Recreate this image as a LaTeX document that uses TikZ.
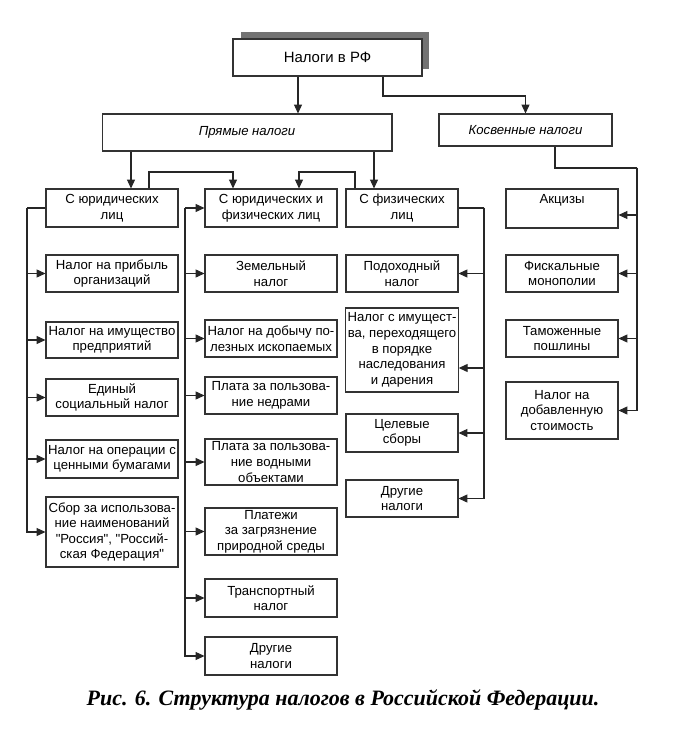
\documentclass[tikz,border=0pt]{standalone}
\usepackage{fontspec}
\setmainfont{Liberation Sans}
\newfontfamily\capfont{Liberation Serif}
\usetikzlibrary{arrows.meta, shadows}

\begin{document}
\begin{tikzpicture}[
      x=0.02cm, y=-0.02cm,
      box/.style={draw=black!80, line width=0.6pt, fill=white, align=center,
        minimum height=0.74cm, inner sep=1pt,
        font=\fontsize{7.5}{8.9}\selectfont},
      colA/.style={box, minimum width=2.64cm},
      colB/.style={box, minimum width=2.24cm},
      arr/.style={-{Triangle[length=5pt, width=4.5pt]}, line width=0.6pt, draw=black!85},
      ln/.style={line width=0.6pt, draw=black!85}
    ]
    \useasboundingbox (0,0) rectangle (686,729);
    % top level
    \node[box, minimum width=3.78cm,
      drop shadow={shadow xshift=0.15cm, shadow yshift=0.13cm, fill=black!55, opacity=1}]
      (nalogi) at (327.5,57.5) {\fontsize{8.5}{10}\selectfont Налоги в РФ};
    \node[box, minimum width=5.8cm] (pryam) at (247,132.5) {\itshape Прямые налоги};
    \node[box, minimum width=3.46cm, minimum height=0.64cm] (kosv) at (525.5,130)
      {\itshape Косвенные налоги};

    % first column
    \node[colA, minimum height=0.76cm] (yur) at (112,208) {С юридических\\лиц};
    \node[colA] (pribyl) at (112,273.5) {Налог на прибыль\\организаций};
    \node[colA, minimum height=0.72cm] (imush) at (112,340) {Налог на имущество\\предприятий};
    \node[colA] (esn) at (112,397.5) {Единый\\социальный налог};
    \node[colA, minimum height=0.76cm] (cenbum) at (112,459) {Налог на операции с\\ценными бумагами};
    \node[colA, minimum height=1.4cm] (sbor) at (112,532)
      {Сбор за использова-\\ние наименований\\\textquotedbl Россия\textquotedbl,
       \textquotedbl Россий-\\ская Федерация\textquotedbl};

    % second column
    \node[colA, minimum height=0.76cm] (yurfiz) at (271,208) {С юридических и\\физических лиц};
    \node[colA] (zemel) at (271,273.5) {Земельный\\налог};
    \node[colA] (dobycha) at (271,338.5) {Налог на добычу по-\\лезных ископаемых};
    \node[colA] (nedra) at (271,395.5) {Плата за пользова-\\ние недрами};
    \node[colA, minimum height=0.92cm] (voda) at (271,462) {Плата за пользова-\\ние водными\\объектами};
    \node[colA, minimum height=0.94cm] (sreda) at (271,531.5) {Платежи\\за загрязнение\\природной среды};
    \node[colA, minimum height=0.76cm] (transp) at (271,598) {Транспортный\\налог};
    \node[colA, minimum height=0.76cm] (drugieA) at (271,656) {Другие\\налоги};

    % third column
    \node[colB, minimum height=0.76cm] (fiz) at (402,208) {С физических\\лиц};
    \node[colB] (podoh) at (402,273.5) {Подоходный\\налог};
    \node[colB, minimum height=1.68cm] (nasled) at (402,350)
      {Налог с имущест-\\ва, переходящего\\в порядке\\наследования\\и дарения};
    \node[colB, minimum height=0.76cm] (celev) at (402,433) {Целевые\\сборы};
    \node[colB] (drugieB) at (402,498.5) {Другие\\налоги};

    % fourth column
    \node[colB, minimum height=0.78cm] (akciz) at (562,208.5) {Акцизы\\[2pt]~};
    \node[colB] (fisk) at (562,273.5) {Фискальные\\монополии};
    \node[colB] (tamozh) at (562,338.5) {Таможенные\\пошлины};
    \node[colB, minimum height=1.14cm] (nds) at (562,410.5) {Налог на\\добавленную\\стоимость};

    % caption
    \node[font=\capfont\bfseries\itshape\fontsize{12.5}{14}\selectfont] (cap) at (343,700)
      {Рис. 6. Структура налогов в Российской Федерации.};

    % bends and bus lines
    \coordinate (sp1) at (298,0);
    \coordinate (sp2) at (383,96);
    \coordinate (sp3) at (131,0);
    \coordinate (sp4) at (374,0);
    \coordinate (j1) at (149,172);
    \coordinate (j2) at (233,172);
    \coordinate (j3) at (299,172);
    \coordinate (j4) at (355,172);
    \coordinate (busA) at (27,208);
    \coordinate (busB) at (185,208);
    \coordinate (busC) at (484,208);
    \coordinate (busD) at (637,168);
    \coordinate (k1) at (555,0);

    % top arrows
    \draw[arr] (nalogi.south -| sp1) -- (pryam.north -| sp1);
    \draw[arr] (nalogi.south -| sp2) -- (sp2) -| (kosv.north);
    \draw[arr] (pryam.south -| sp3) -- (yur.north -| sp3);
    \draw[arr] (pryam.south -| sp4) -- (fiz.north -| sp4);
    \draw[arr] (yur.north -| j1) -- (j1) -- (j2) -- (yurfiz.north -| j2);
    \draw[arr] (fiz.north -| j4) -- (j4) -- (j3) -- (yurfiz.north -| j3);

    % first column bus
    \draw[ln] (yur.west) -- (busA);
    \foreach \n in {pribyl, imush, esn, cenbum, sbor}
      \draw[arr] (busA) |- (\n.west);

    % second column bus
    \draw[arr] (busB) -- (yurfiz.west);
    \foreach \n in {zemel, dobycha, nedra, voda, sreda, transp, drugieA}
      \draw[arr] (busB) |- (\n.west);

    % third column bus
    \draw[ln] (fiz.east) -- (busC);
    \foreach \n in {podoh, celev, drugieB}
      \draw[arr] (busC) |- (\n.east);
    \draw[arr] (busC) |- ([yshift=-0.36cm]nasled.east);

    % fourth column bus
    \draw[ln] (kosv.south -| k1) |- (busD);
    \draw[arr] (busD) |- ([yshift=-0.13cm]akciz.east);
    \foreach \n in {fisk, tamozh, nds}
      \draw[arr] (busD) |- (\n.east);
  \end{tikzpicture}
\end{document}
